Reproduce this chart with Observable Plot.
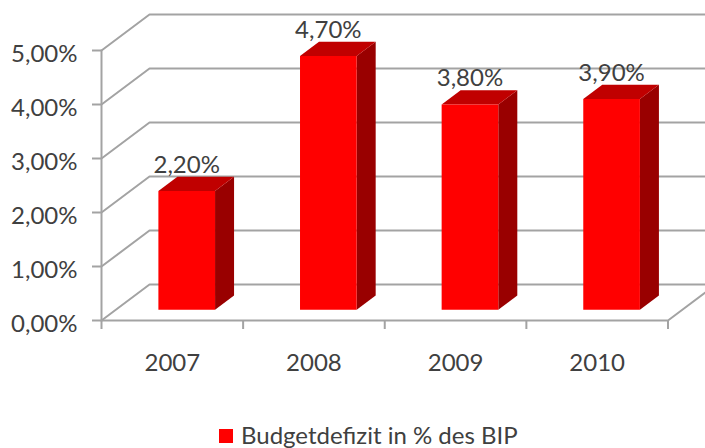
<!DOCTYPE html>
<html><head><meta charset="utf-8">
<script src="https://cdn.jsdelivr.net/npm/d3@7"></script>
<script src="https://cdn.jsdelivr.net/npm/@observablehq/plot@0.6"></script>
<style>
html,body{margin:0;padding:0;background:#fff;overflow:hidden}
#legend{position:relative;height:26px;font:24px Lato,sans-serif;color:#404040}
#legend i{position:absolute;left:219px;top:7px;width:14px;height:14px;background:#f00}
#legend span{position:absolute;left:241px;top:-2px;line-height:29px;white-space:nowrap}
</style></head><body>
<div id="chart"></div>
<div id="legend"><i></i><span>Budgetdefizit in % des BIP</span></div>
<script>
const years = ["2007","2008","2009","2010"];
const deficit = [2.2,4.7,3.8,3.9];
const yTicks = [0,1,2,3,4,5];
const xTicks = [0,1,2,3,4];

const fmt = v => v.toFixed(2).replace(".", ",") + "%";
// oblique projection: depth d in [0,1] shifts along both data axes
const DX = 48/141.6, DY = 36/54;
const P = (c,v,d=0) => ({x:c+d*DX, y:v+d*DY});
const barW = 0.4, d0 = 0.3, d1 = 0.696;
const faces = {front:[], top:[], side:[]};
deficit.forEach((v,i)=>{
  const a = i+0.3, b = a+barW;
  const push = (k,pts)=>pts.forEach(p=>faces[k].push({...p,id:i}));
  push("front",[P(a,0,d0),P(b,0,d0),P(b,v,d0),P(a,v,d0)]);
  push("top",[P(a,v,d0),P(b,v,d0),P(b,v,d1),P(a,v,d1)]);
  push("side",[P(b,0,d0),P(b,0,d1),P(b,v,d1),P(b,v,d0)]);
});
const grid = yTicks.flatMap(t=>[P(0,t,0),P(0,t,1),P(5,t,1)].map(p=>({...p,id:t})));
const floor = [P(4,0,1),P(4,0,0),P(0,0,0)];
const wall = [P(0,5,0),P(0,0,0)];
const labels = years.map((y,i)=>({...P(i+0.5,deficit[i],d0),t:fmt(deficit[i])}));
const gc = "#a3a3a3", tc = "#404040";

document.getElementById("chart").append(Plot.plot({
  width:705, height:422, margin:0,
  style:{fontFamily:"Lato,sans-serif",background:"#fff",color:tc},
  x:{domain:[0,4],range:[101,667.5],axis:null},
  y:{domain:[0,5],range:[320,50]},
  marks:[
    Plot.line(grid,{x:"x",y:"y",z:"id",stroke:gc,strokeWidth:2}),
    Plot.line(floor,{x:"x",y:"y",stroke:gc,strokeWidth:2}),
    Plot.line(wall,{x:"x",y:"y",stroke:gc,strokeWidth:2}),
    Plot.line(faces.side,{x:"x",y:"y",z:"id",fill:"#990000",stroke:null}),
    Plot.line(faces.top,{x:"x",y:"y",z:"id",fill:"#c00000",stroke:null}),
    Plot.line(faces.front,{x:"x",y:"y",z:"id",fill:"#ff0000",stroke:null}),
    Plot.axisY({ticks:yTicks,tickFormat:null,text:null,anchor:"left",x:0,tickSize:9,stroke:gc,strokeWidth:2,label:null}),
    Plot.axisY({ticks:yTicks,tickFormat:fmt,anchor:"left",x:0,tickSize:0,tickPadding:24,dy:4,
      fontSize:24,fill:tc,label:null}),
    Plot.ruleX(xTicks,{x:d=>d,y1:0,y2:-9/54,stroke:gc,strokeWidth:2}),
    Plot.text(years,{x:(d,i)=>i+0.5,y:0,text:d=>d,dy:43,fontSize:24,fill:tc}),
    Plot.text(labels,{x:"x",y:"y",text:"t",dy:-26,fontSize:24,fill:tc})
  ]
}));
</script></body></html>
